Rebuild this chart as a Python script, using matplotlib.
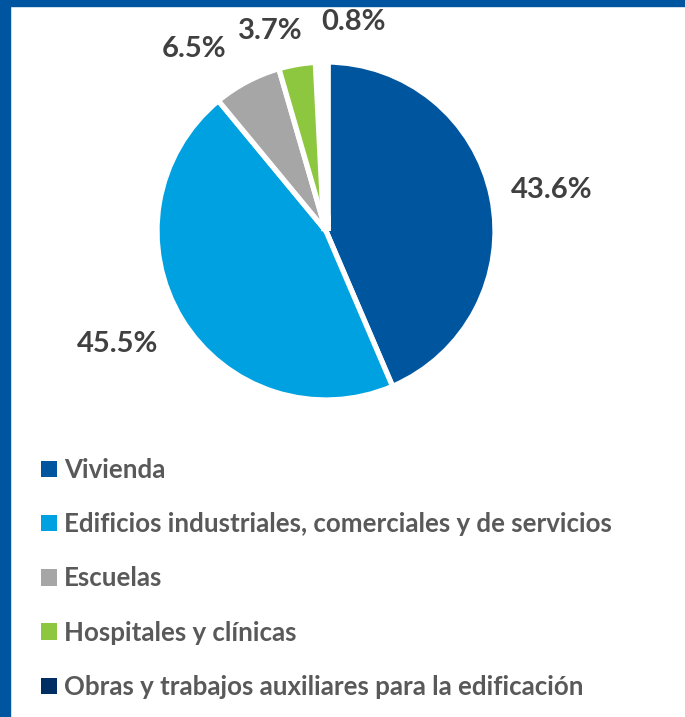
import numpy as np
import matplotlib.pyplot as plt
from matplotlib.patches import Rectangle

categorias = ['Vivienda',
              'Edificios industriales, comerciales y de servicios',
              'Escuelas',
              'Hospitales y clínicas',
              'Obras y trabajos auxiliares para la edificación']
valores = [43.6, 45.5, 6.5, 3.7, 0.8]
etiquetas = ['43.6%', '45.5%', '6.5%', '3.7%', '0.8%']
colores = ['#00559f', '#00a1e0', '#a6a6a6', '#8dc63f', '#002d62']

W, H = 685, 717
fig = plt.figure(figsize=(W / 100, H / 100), dpi=100)
fig.patch.set_facecolor('white')

# blue frame on top and left
fig.patches.append(Rectangle((0, 1 - 6 / H), 1, 6 / H, transform=fig.transFigure,
                             color='#0055a0', zorder=0))
fig.patches.append(Rectangle((0, 0), 10 / W, 1, transform=fig.transFigure,
                             color='#0055a0', zorder=0))

cx, cy, r = 326, 231, 169  # pie centre / radius in pixels
ax = fig.add_axes([(cx - r) / W, (H - cy - r) / H, 2 * r / W, 2 * r / H])
wedges, _ = ax.pie(valores, colors=colores, startangle=90, counterclock=False,
                   radius=1, wedgeprops=dict(edgecolor='white', linewidth=3.8))
wedges[4].set_linewidth(7)
ax.set_xlim(-1, 1)
ax.set_ylim(-1, 1)
ax.axis('off')

# label placement: distance from centre and angle nudge (deg)
dist = [1.36, 1.405, 1.33, 1.23, 1.25]
nudge = [-1.3, -3, 8, 6, -9]
for w, lab, d, n in zip(wedges, etiquetas, dist, nudge):
    ang = np.deg2rad((w.theta1 + w.theta2) / 2 + n)
    ax.text(d * np.cos(ang), d * np.sin(ang), lab, ha='center', va='center',
            fontsize=21, fontweight='bold', family='Lato', color='#404040',
            clip_on=False)

handles = [Rectangle((0, 0), 1, 1, facecolor=c, edgecolor='none') for c in colores]
fig.legend(handles, categorias, loc='upper left',
           bbox_to_anchor=(41 / W, 1 - 458 / H), frameon=False,
           prop=dict(family='Lato', weight='bold', size=18.6),
           labelcolor='#595959', handlelength=0.6, handleheight=0.6,
           handletextpad=0.3, labelspacing=1.17, borderpad=0, borderaxespad=0)

fig.savefig('out.png', dpi=100)
